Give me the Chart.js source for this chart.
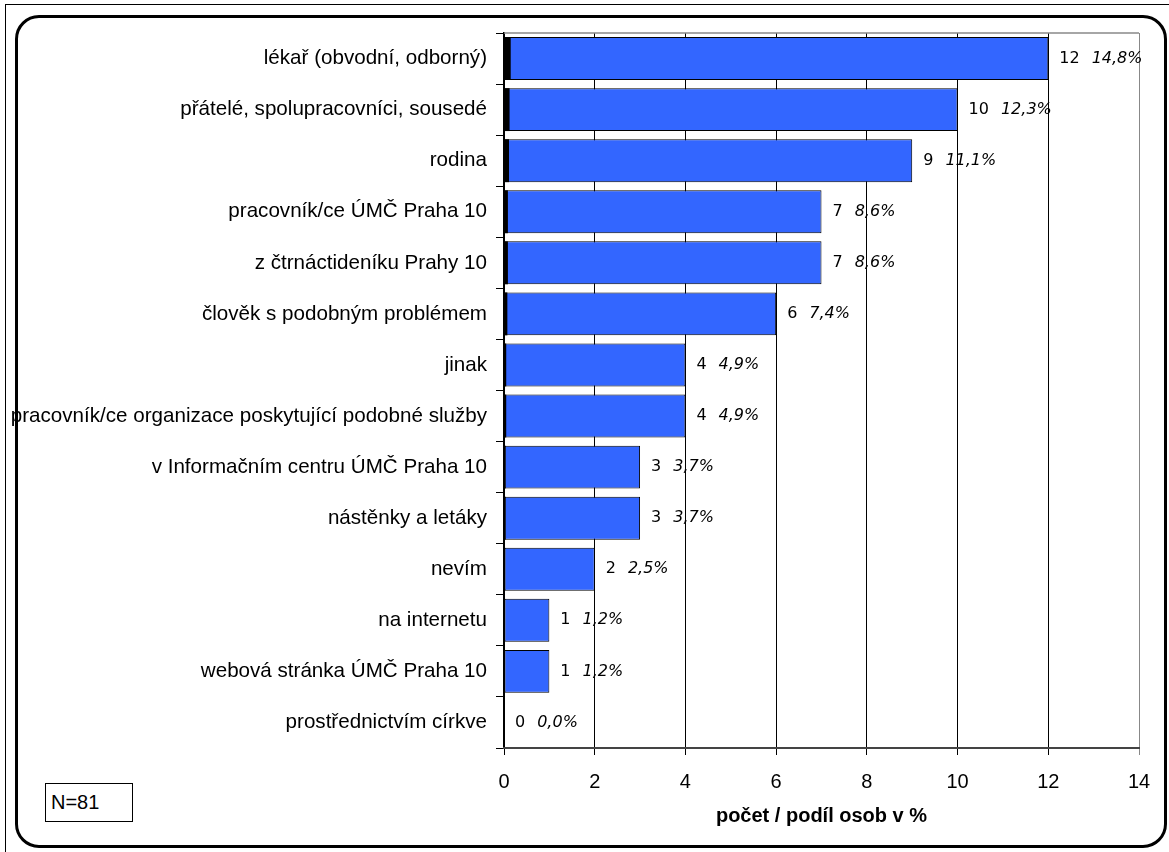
<!DOCTYPE html>
<html lang="cs">
<head>
  <meta charset="UTF-8">
  <title>Odkud se dozvěděli</title>
  <script src="https://cdn.jsdelivr.net/npm/chart.js"></script>
  <style>
    body { margin:0; background:#fff; width:1169px; height:852px; overflow:hidden; position:relative; font-family:"Liberation Sans", Arial, sans-serif; }
    .outer { position:absolute; left:5px; top:4px; width:1200px; height:900px; border:1px solid #000; }
    .inner { position:absolute; left:15px; top:15px; width:1146px; height:827px; border:3.5px solid #000; border-radius:24px; background:#fff; }
    .nbox { position:absolute; left:45px; top:783px; border:1px solid #000; font-size:20px; line-height:37px; padding-left:5px; box-sizing:border-box; width:88px; height:39px; }
    canvas { position:absolute; left:0; top:0; }
  </style>
</head>
<body>
  <div class="outer"></div>
  <div class="inner"></div>
  <div class="nbox">N=81</div>
  <canvas id="c" width="1169" height="852"></canvas>

  <script>
    const categories = ['lékař (obvodní, odborný)', 'přátelé, spolupracovníci, sousedé', 'rodina',
      'pracovník/ce ÚMČ Praha 10', 'z čtrnáctideníku Prahy 10', 'člověk s podobným problémem', 'jinak',
      'pracovník/ce organizace poskytující podobné služby', 'v Informačním centru ÚMČ Praha 10',
      'nástěnky a letáky', 'nevím', 'na internetu', 'webová stránka ÚMČ Praha 10', 'prostřednictvím církve'];
    const counts = [12, 10, 9, 7, 7, 6, 4, 4, 3, 3, 2, 1, 1, 0];
    const shares = [14.8, 12.3, 11.1, 8.6, 8.6, 7.4, 4.9, 4.9, 3.7, 3.7, 2.5, 1.2, 1.2, 0.0];
    const xTicks = [0, 2, 4, 6, 8, 10, 12, 14];

    // popisky: počet + podíl v %
    const labelsPlugin = {
      id: 'valueLabels',
      afterDatasetsDraw(chart) {
        const ctx = chart.ctx;
        const meta = chart.getDatasetMeta(1);
        ctx.save();
        ctx.fillStyle = '#000';
        ctx.textBaseline = 'middle';
        ctx.textAlign = 'left';
        meta.data.forEach((bar, i) => {
          const x0 = chart.scales.x.getPixelForValue(counts[i]) + 11;
          ctx.font = '16px "DejaVu Sans"';
          const t = String(counts[i]);
          ctx.fillText(t, x0, bar.y);
          const w = ctx.measureText(t).width;
          ctx.font = 'italic 16px "DejaVu Sans"';
          ctx.fillText(shares[i].toFixed(1).replace('.', ',') + '%', x0 + w + 12, bar.y);
        });
        ctx.restore();
      },
      beforeDatasetsDraw(chart) {
        const a = chart.chartArea, ctx = chart.ctx;
        ctx.save();
        ctx.strokeStyle = '#888';
        ctx.lineWidth = 1.5;
        ctx.beginPath();
        ctx.moveTo(a.left, a.top);
        ctx.lineTo(a.right, a.top);
        ctx.stroke();
        ctx.restore();
      }
    };

    new Chart(document.getElementById('c'), {
      type: 'bar',
      data: {
        labels: categories,
        datasets: [
          { label: 'podíl', data: shares.map(s => s / 100), backgroundColor: '#000', borderWidth: 0,
            grouped: false, order: 0, barPercentage: 0.84, categoryPercentage: 1 },
          { label: 'počet', data: counts, backgroundColor: '#3366FF', borderColor: '#000', borderWidth: 1,
            borderSkipped: false, grouped: false, order: 1, barPercentage: 0.84, categoryPercentage: 1 }
        ]
      },
      options: {
        indexAxis: 'y',
        responsive: false,
        animation: false,
        layout: { padding: { top: 33, right: 30, left: 0, bottom: 0 } },
        plugins: { legend: { display: false }, tooltip: { enabled: false } },
        scales: {
          y: {
            afterFit(s) { s.width = 504; },
            grid: { offset: true, drawOnChartArea: false, tickLength: 8, color: '#000' },
            border: { color: '#000', width: 2 },
            ticks: { color: '#000', padding: 9, font: { family: '"Liberation Sans", Arial', size: 20.6 } }
          },
          x: {
            min: 0, max: 14,
            afterFit(s) { s.height = 104; },
            afterBuildTicks(s) { s.ticks = xTicks.map(v => ({ value: v })); },
            grid: { color: c => (c.tick && c.tick.value === 14 ? '#888' : '#000'), lineWidth: 1, tickLength: 7 },
            border: { color: '#444', width: 2 },
            ticks: { color: '#000', padding: 15, font: { family: '"Liberation Sans", Arial', size: 20 } },
            title: { display: true, text: 'počet / podíl osob v %', color: '#000',
              font: { family: '"Liberation Sans", Arial', size: 20, weight: 'bold' }, padding: { top: 4, bottom: 24 } }
          }
        }
      },
      plugins: [labelsPlugin]
    });
  </script>
</body>
</html>
